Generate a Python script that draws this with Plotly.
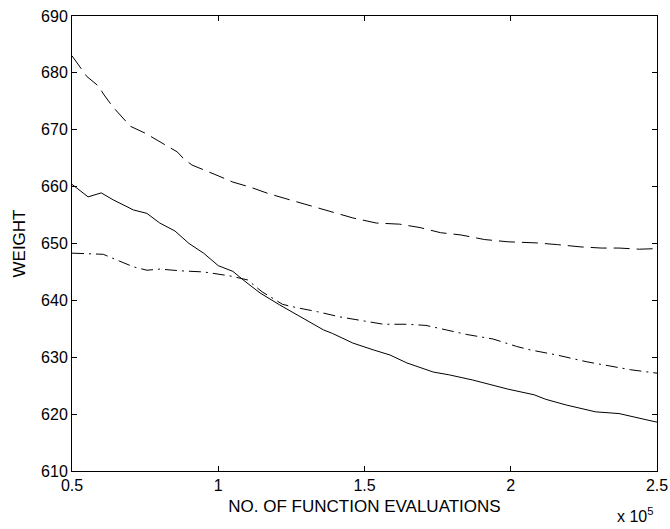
import plotly.graph_objects as go

# x in units of 10^5 function evaluations
x_dashed = [0.50, 0.55, 0.59, 0.61, 0.64, 0.67, 0.70, 0.75, 0.81, 0.86, 0.88, 0.91, 1.00,
            1.05, 1.11, 1.17, 1.25, 1.31, 1.39, 1.46, 1.54, 1.62, 1.69, 1.76, 1.83, 1.91,
            1.99, 2.09, 2.16, 2.24, 2.31, 2.37, 2.44, 2.50]
y_dashed = [683.0, 679.4, 677.7, 676.1, 674.0, 672.2, 670.6, 669.4, 667.6, 666.1, 665.0, 663.8, 661.9,
            660.8, 659.9, 658.8, 657.6, 656.7, 655.5, 654.5, 653.6, 653.4, 652.8, 651.9, 651.5, 650.7,
            650.3, 650.1, 649.8, 649.4, 649.2, 649.2, 649.0, 649.1]

x_solid = [0.50, 0.555, 0.60, 0.64, 0.71, 0.756, 0.80, 0.852, 0.90, 0.95, 1.00, 1.05, 1.085,
           1.143, 1.21, 1.28, 1.36, 1.39, 1.46, 1.53, 1.587, 1.645, 1.735, 1.79, 1.87, 1.99,
           2.08, 2.12, 2.19, 2.29, 2.37, 2.49, 2.50]
y_solid = [660.4, 658.2, 658.9, 657.7, 655.9, 655.3, 653.6, 652.2, 650.0, 648.3, 646.1, 645.1, 643.6,
           641.3, 639.2, 637.1, 634.8, 634.2, 632.5, 631.3, 630.4, 629.0, 627.4, 626.9, 626.0, 624.4,
           623.4, 622.6, 621.6, 620.4, 620.1, 618.7, 618.6]

x_dashdot = [0.50, 0.607, 0.653, 0.71, 0.756, 0.80, 0.87, 0.95, 1.04, 1.10, 1.15, 1.22, 1.27,
             1.34, 1.415, 1.495, 1.565, 1.645, 1.71, 1.78, 1.85, 1.94, 2.02, 2.066, 2.157,
             2.26, 2.34, 2.41, 2.50]
y_dashdot = [648.3, 648.1, 647.1, 645.9, 645.3, 645.5, 645.2, 645.0, 644.3, 643.6, 641.5, 639.3, 638.7,
             638.0, 637.1, 636.4, 635.8, 635.8, 635.6, 634.8, 634.0, 633.2, 631.9, 631.3, 630.4,
             629.2, 628.5, 627.8, 627.2]

x_tickvals = [0.5, 1, 1.5, 2, 2.5]
x_ticktext = ["0.5", "1", "1.5", "2", "2.5"]
y_tickvals = [610, 620, 630, 640, 650, 660, 670, 680, 690]

FONT = "Liberation Sans, Arial, sans-serif"

fig = go.Figure()
fig.add_trace(go.Scatter(x=x_dashed, y=y_dashed, mode="lines",
                         line=dict(color="black", width=1, dash="16px,7px"), showlegend=False))
fig.add_trace(go.Scatter(x=x_solid, y=y_solid, mode="lines",
                         line=dict(color="black", width=1), showlegend=False))
fig.add_trace(go.Scatter(x=x_dashdot, y=y_dashdot, mode="lines",
                         line=dict(color="black", width=1, dash="12px,5px,2px,5px"), showlegend=False))

axis_common = dict(showline=True, mirror="ticks", linecolor="black", linewidth=1,
                   ticks="inside", ticklen=5, tickcolor="black", showgrid=False, zeroline=False,
                   automargin=False, ticklabeloverflow="allow",
                   tickfont=dict(family=FONT, size=16, color="black"))

fig.update_xaxes(range=[0.5, 2.5], tickvals=x_tickvals, ticktext=x_ticktext,
                 title=dict(text="NO. OF FUNCTION EVALUATIONS", standoff=6,
                            font=dict(family=FONT, size=17, color="black")),
                 **axis_common)
fig.update_yaxes(range=[610, 690], tickvals=y_tickvals,
                 title=dict(text="WEIGHT", standoff=11,
                            font=dict(family=FONT, size=17, color="black")),
                 **axis_common)

fig.add_annotation(text="x 10<sup>5</sup>", xref="paper", yref="paper", x=0.997, y=-0.122,
                   xanchor="right", yanchor="bottom", showarrow=False,
                   font=dict(family=FONT, size=16, color="black"))

fig.update_layout(width=670, height=529, plot_bgcolor="white", paper_bgcolor="white",
                  margin=dict(l=72, r=13, t=16, b=58))

# remove the default page margin so the figure fills the window exactly
fig.write_html("out.html", config={"displayModeBar": False},
               post_script="document.body.style.margin='0';")
